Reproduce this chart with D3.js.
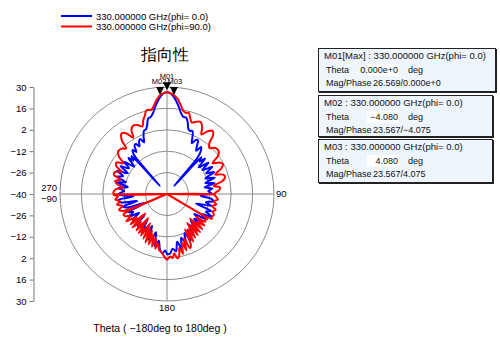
<!DOCTYPE html>
<html><head><meta charset="utf-8">
<script src="https://cdn.jsdelivr.net/npm/d3@7"></script>
<style>body{margin:0;background:#fff}svg{display:block}text{font-family:"Liberation Sans",Arial,sans-serif}</style>
</head><body><svg id="c" width="500" height="347"></svg>
<script>
// ---- data ----
const legendLabels = ["330.000000 GHz(phi= 0.0)", "330.000000 GHz(phi=90.0)"];
const seriesColors = ["#0000ff", "#ff0000"];
const titleText = "指向性";
const xLabel = "Theta ( −180deg to 180deg )";
const radialTicks = [-40, -26, -12, 2, 16, 30];
const angleTickLabels = ["90", "180", "270", "−90"];

const blueTheta = [-180,-178,-176,-173,-170,-167,-164,-161.8,-158,-155,-152.5,-149,-146,-143,-140.4,-136,-133,-130.6,-127,-124,-121,-118,-115,-112,-109,-106,-103,-100,-97,-94,-91,-89,-86,-83,-80,-77,-74,-71,-68,-65,-62,-59,-56,-53,-50,-47,-45,-43,-41,-40,-38,-36,-34,-32,-30,-28,-26,-24,-22,-20,-18,-16,-14,-12,-10,-8,-6,-4.08,-2,0,2,4.08,6,8,10,12,14,16,18,20,22,24,26,28,30,32,34,36,38,40,41.6,43,45,47,50,53,56,59,62,65,68,71,74,77,80,83,86,89,93,96,99,102,105,108,111,114,117,120,123,126,129,132,135,138,141,144,147,150,153,156,159,162,165,168,171,174,177,180];
const blueMag = [-0.5,-3,-1.3,-3,-9,-5,-14,-10.6,-8,-17,-11.2,-15,-10,-19,-12.3,-12,-20,-13.9,-12,-18,-11,-15,-12,-25,-13,-10,-20,-9,-8,-18,-9,-9,-12,-8,-14,-6,-12,-5,-9,-4,-11,-4.5,-10,-5,-12,-5.5,-9,-6,-33,-6.2,-3.5,-6,-2,-1.5,-4,-1,0,-3,1,4,4.5,7,11,11.5,13.5,17,20.5,23.567,25.8,26.569,25.8,23.567,20.5,17,13.5,11.5,11.5,9,5,4,4.5,1,-3,0,0.5,-3,-6,-2,-4,-8.9,-33,-7,-10,-6,-13,-6,-12,-5.5,-11,-6,-13,-7,-14,-8,-15,-10,-13,-11,-18,-11,-9.5,-14,-10,-20,-9,-12,-7,-14,-10,-18,-11,-16,-10,-17,-9,-15,-8,-13,-6,-12,-5,-10,-3,-8,-2,-4,-1,-0.5];

const redTheta = [-180,-177,-174,-172,-170,-168,-166,-164,-162,-160,-158,-156,-154,-152,-150,-148,-146,-144,-142,-140,-137,-134,-132,-130,-127,-124,-121,-118,-115,-113,-111,-108,-105,-102,-99,-96,-93,-91,-90,-89.5,-88,-85,-82,-79,-76,-73,-70,-67,-64,-61,-58,-55,-52,-49,-45,-42,-40,-37,-34,-31,-29,-26,-23,-20,-18,-16,-13.6,-11,-9,-6.3,-4,-2,0,2,4,6.5,9,11,13,15,17,19,22,25,28,30,33,36,38,40,43,46,50,53,56,59,62,65,68,71,74,77,80,83,86,88,89.5,90,91,93,96,99,102,105,108,111,114,117,119,120,122,124,126,128,130,133,135,137,139,141,143,145,147,149,151,153,155,157,159,161,163,165,167,169,171,173,175,177,180];
const redMag = [3.2,0.5,-2,-3,-7,-3.5,-10,-4.3,-12,-5,-14,-5.3,-15,-7,-18,-8,-13,-8.5,-20,-9,-15,-8.5,-21,-9,-15,-8,-12,-9,-8.6,-60,-9,-7,-10,-6.5,-9,-6,-8,-5,-60,-5,-5,-6,-11,-7,-5,-8,-3,-3,-7,-2,-1,-5,0,2.5,2,0,6,9.5,8,3,8,10,9,7,10.5,13,16.5,16,17.6,22,24.8,26,26.6,26,24.8,22.5,18.5,15.5,14.5,15,12,9.5,11,12,9,5,9,11,9,3,1,3.5,4,2,-4,0,1.5,-1,-6,-1,-0.5,-3,-9,-5,-6,-8,-9,-60,-9,-8,-6.5,-9,-7,-9.5,-6.5,-8,-6.4,-7,-6.5,-60,-9,-10,-9.1,-16,-8,-13,-7.5,-18,-7,-14,-6.4,-17,-6,-13,-4.5,-14,-3,-1.6,-9,-1,-7,0.5,-4,1.5,2.5,-1,2,1,3.2];

const markerNames = ["M01", "M02", "M03"];
const markerTheta = [0, -4.08, 4.08];
const markerMag = [26.569, 23.567, 23.567];

const boxHeaders = ["M01[Max] : 330.000000 GHz(phi= 0.0)", "M02 : 330.000000 GHz(phi= 0.0)", "M03 : 330.000000 GHz(phi= 0.0)"];
const boxThetaText = ["0.000e+0", "−4.080", "4.080"];
const boxMagPhase = ["26.569/0.000e+0", "23.567/−4.075", "23.567/4.075"];

// ---- layout ----
const svg = d3.select("#c");
svg.append("rect").attr("width", 500).attr("height", 347).attr("fill", "#fff");
const cx = 167, cy = 194, R = 107;
const r = d3.scaleLinear().domain([-40, 30]).range([0, R]).clamp(true);

// grid
const grid = svg.append("g");
grid.selectAll("circle").data(radialTicks.slice(1)).join("circle")
  .attr("cx", cx).attr("cy", cy).attr("r", d => r(d))
  .attr("fill", "none").attr("stroke", "#8c8c8c").attr("stroke-width", 1);
grid.append("line").attr("x1", cx).attr("x2", cx).attr("y1", cy - R).attr("y2", cy + R).attr("stroke", "#8c8c8c");
grid.append("line").attr("x1", cx - R).attr("x2", cx + R).attr("y1", cy).attr("y2", cy).attr("stroke", "#8c8c8c");

// left axis (two halves)
const yTop = d3.scaleLinear().domain([-40, 30]).range([cy, cy - R]);
const yBot = d3.scaleLinear().domain([-40, 30]).range([cy, cy + R]);
function styleAxis(g) {
  g.selectAll("path,line").attr("stroke", "#777");
  g.selectAll("text").attr("font-size", "9.5px").attr("fill", "#000").attr("font-family", "Liberation Sans, Arial, sans-serif");
}
svg.append("g").attr("transform", "translate(33.5,0)")
  .call(d3.axisLeft(yTop).tickValues(radialTicks).tickSize(4).tickSizeOuter(0)).call(styleAxis);
svg.append("g").attr("transform", "translate(33.5,0)")
  .call(d3.axisLeft(yBot).tickValues(radialTicks.slice(1)).tickSize(4).tickSizeOuter(0)).call(styleAxis);

// angle labels
const al = svg.append("g").attr("font-size", "9.5px").attr("fill", "#000");
al.append("text").attr("x", cx + R + 2).attr("y", cy + 3).text(angleTickLabels[0]);
al.append("text").attr("x", cx).attr("y", cy + R + 10).attr("text-anchor", "middle").text(angleTickLabels[1]);
al.append("text").attr("x", cx - R - 3).attr("y", cy - 3).attr("text-anchor", "end").text(angleTickLabels[2]);
al.append("text").attr("x", cx - R - 3).attr("y", cy + 8).attr("text-anchor", "end").text(angleTickLabels[3]);

// curves
const line = d3.lineRadial()
  .angle(d => d[0] * Math.PI / 180)
  .radius(d => r(d[1]))
  .curve(d3.curveCatmullRom.alpha(0.5));
const plot = svg.append("g").attr("transform", `translate(${cx},${cy})`);
[[blueTheta, blueMag], [redTheta, redMag]].forEach((s, i) => {
  plot.append("path").datum(d3.zip(s[0], s[1]))
    .attr("d", line).attr("fill", "none")
    .attr("stroke", seriesColors[i]).attr("stroke-width", 2).attr("stroke-linejoin", "round");
});

// markers
const mk = svg.append("g");
markerNames.forEach((n, i) => {
  const a = markerTheta[i] * Math.PI / 180, rr = r(markerMag[i]);
  const x = cx + rr * Math.sin(a), y = cy - rr * Math.cos(a);
  mk.append("path").attr("d", `M${x},${y - 2}L${x - 4},${y - 10}L${x + 4},${y - 10}Z`).attr("fill", "#000");
  mk.append("text").attr("x", x + (i === 1 ? -1 : i === 2 ? 1 : 0)).attr("y", y - 13).attr("text-anchor", "middle")
    .attr("font-size", "7.5px").attr("fill", "#000").text(n);
});

// title and x label
svg.append("text").attr("x", 165).attr("y", 60).attr("text-anchor", "middle")
  .attr("font-size", "16px").attr("font-family", "Noto Sans CJK JP, sans-serif").text(titleText);
svg.append("text").attr("x", 160).attr("y", 332).attr("text-anchor", "middle")
  .attr("font-size", "10.5px").text(xLabel);

// legend
legendLabels.forEach((t, i) => {
  const y = 16 + i * 10.5;
  svg.append("line").attr("x1", 61).attr("x2", 92).attr("y1", y).attr("y2", y)
    .attr("stroke", seriesColors[i]).attr("stroke-width", 2);
  svg.append("text").attr("x", 96).attr("y", y + 3.5).attr("font-size", "9.5px").text(t);
});

// marker boxes
const boxY = [48, 95, 139], boxH = [44, 42, 44], boxW = [178, 175, 175];
boxHeaders.forEach((h, i) => {
  const x0 = 318, y0 = boxY[i];
  const g = svg.append("g");
  g.append("rect").attr("x", x0 + 1).attr("y", y0 + 1).attr("width", boxW[i]).attr("height", boxH[i]).attr("fill", "#222");
  g.append("rect").attr("x", x0 + 0.5).attr("y", y0 + 0.5).attr("width", boxW[i] - 1).attr("height", boxH[i] - 1)
    .attr("fill", "#eef5fc").attr("stroke", "#222");
  g.append("rect").attr("x", 367).attr("y", y0 + 16).attr("width", 32).attr("height", 12).attr("fill", "#fff");
  const tg = g.append("g").attr("font-size", "9px").attr("fill", "#111");
  tg.append("text").attr("x", 324).attr("y", y0 + 10.5).attr("font-size", "9.5px").text(h);
  tg.append("text").attr("x", 326).attr("y", y0 + 24.5).text("Theta");
  tg.append("text").attr("x", 398).attr("y", y0 + 24.5).attr("text-anchor", "end").text(boxThetaText[i]);
  tg.append("text").attr("x", 408).attr("y", y0 + 24.5).text("deg");
  tg.append("text").attr("x", 326).attr("y", y0 + 38).text("Mag/Phase");
  tg.append("text").attr("x", 373).attr("y", y0 + 38).text(boxMagPhase[i]);
});
</script></body></html>
